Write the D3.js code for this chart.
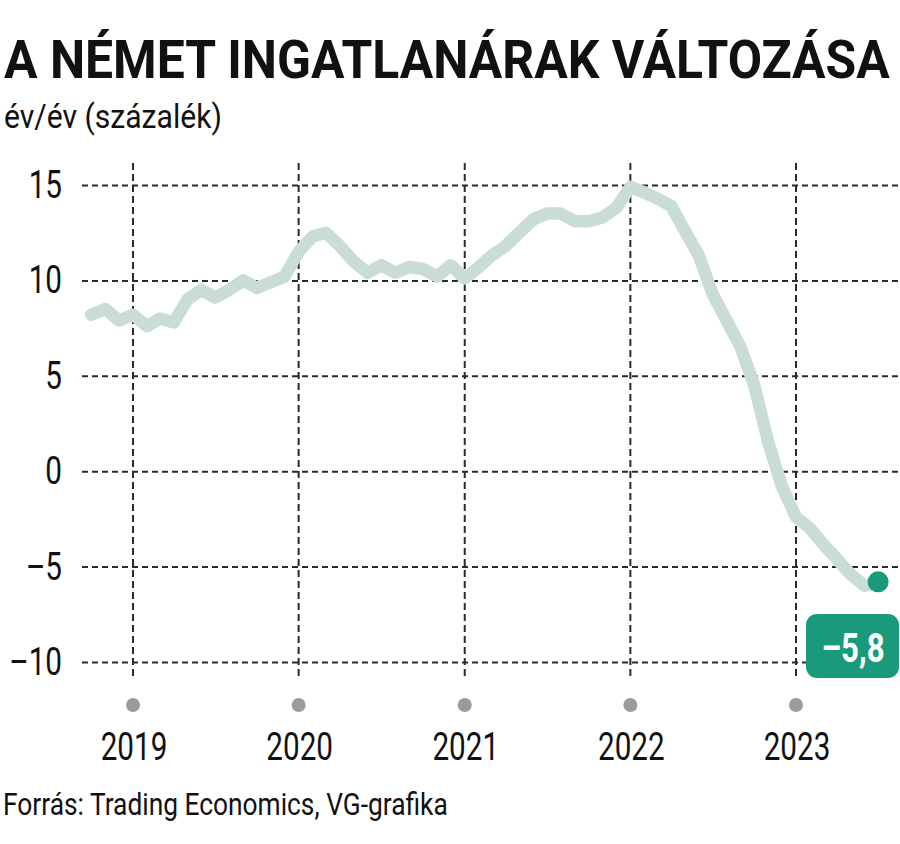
<!DOCTYPE html>
<html>
<head>
<meta charset="utf-8">
<script src="https://cdn.jsdelivr.net/npm/d3@7"></script>
<style>
  html, body { margin: 0; padding: 0; background: #fff; }
  svg { display: block; }
</style>
</head>
<body>
<script>
// ---- data ----
const months = [
  "2018-10","2018-11","2018-12",
  "2019-01","2019-02","2019-03","2019-04","2019-05","2019-06","2019-07","2019-08","2019-09","2019-10","2019-11","2019-12",
  "2020-01","2020-02","2020-03","2020-04","2020-05","2020-06","2020-07","2020-08","2020-09","2020-10","2020-11","2020-12",
  "2021-01","2021-02","2021-03","2021-04","2021-05","2021-06","2021-07","2021-08","2021-09","2021-10","2021-11","2021-12",
  "2022-01","2022-02","2022-03","2022-04","2022-05","2022-06","2022-07","2022-08","2022-09","2022-10","2022-11","2022-12",
  "2023-01","2023-02","2023-03","2023-04","2023-05","2023-06","2023-07"
];
const values = [
  8.2, 8.5, 7.9,
  8.2, 7.6, 8.0, 7.8, 9.0, 9.5, 9.1, 9.5, 10.0, 9.6, 9.9, 10.2,
  11.5, 12.3, 12.5, 11.8, 11.0, 10.4, 10.8, 10.4, 10.7, 10.6, 10.2, 10.8,
  10.1, 10.7, 11.3, 11.8, 12.5, 13.2, 13.5, 13.5, 13.1, 13.1, 13.3, 13.8,
  14.9, 14.6, 14.3, 13.9, 12.6, 11.3, 9.3, 7.9, 6.5, 4.5, 1.5, -0.8,
  -2.4, -3.0, -3.8, -4.6, -5.4, -6.0, -5.8
];
const yTicks = [15, 10, 5, 0, -5, -10];
const yearTicks = ["2019", "2020", "2021", "2022", "2023"];
const lastLabel = "–5,8";
const titleText = "A NÉMET INGATLANÁRAK VÁLTOZÁSA";
const subtitleText = "év/év (százalék)";
const sourceText = "Forrás: Trading Economics, VG-grafika";

// ---- chart ----
const W = 900, H = 844;
const parseM = d3.timeParse("%Y-%m");
const parseY = d3.timeParse("%Y");
const data = months.map((m, i) => ({ date: parseM(m), value: values[i] }));
const years = yearTicks.map(parseY);

const x = d3.scaleTime().domain([parseY("2019"), parseY("2023")]).range([133, 796]);
const y = d3.scaleLinear().domain([-10, 15]).range([662, 185]);

const svg = d3.select("body").append("svg").attr("width", W).attr("height", H);
svg.append("rect").attr("width", W).attr("height", H).attr("fill", "#fff");

const FONT = "Roboto, 'Open Sans', sans-serif";
const SX = 0.78;

// text squeezed horizontally to a target width
function fitText(txt, x0, y0, size, weight, width) {
  const t = svg.append("text")
    .attr("font-family", FONT).attr("font-weight", weight).attr("font-size", size)
    .attr("fill", "#111").text(txt);
  const w = t.node().getComputedTextLength();
  const s = width / w;
  t.attr("transform", `translate(${x0},${y0}) scale(${s},1)`);
  return t;
}

fitText(titleText, 4, 78, 53, 700, 886);
fitText(subtitleText, 4, 128, 33, 400, 218);

// horizontal grid
const gridH = svg.append("g").attr("transform", "translate(82,0)")
  .call(d3.axisLeft(y).tickValues(yTicks).tickSize(-(W - 82)).tickFormat(""));
gridH.select(".domain").remove();
gridH.selectAll(".tick line")
  .attr("stroke", "#2a2a2a").attr("stroke-width", 2).attr("stroke-dasharray", "6,4");

// vertical grid
svg.append("g").selectAll("line").data(years).join("line")
  .attr("x1", d => x(d)).attr("x2", d => x(d))
  .attr("y1", 163).attr("y2", 680)
  .attr("stroke", "#2a2a2a").attr("stroke-width", 2).attr("stroke-dasharray", "7,4");

// y labels
const fmt = d => d < 0 ? "–" + Math.abs(d) : String(d);
svg.append("g").selectAll("text").data(yTicks).join("text")
  .attr("transform", d => `translate(62,${y(d) + 13}) scale(${SX},1)`)
  .attr("text-anchor", "end")
  .attr("font-family", FONT).attr("font-size", 38).attr("fill", "#111")
  .text(fmt);

// year dots and labels
svg.append("g").selectAll("circle").data(years).join("circle")
  .attr("cx", d => x(d)).attr("cy", 705).attr("r", 7).attr("fill", "#9b9b9b");
svg.append("g").selectAll("text").data(years).join("text")
  .attr("transform", d => `translate(${x(d) + 1},760) scale(${SX},1)`)
  .attr("text-anchor", "middle")
  .attr("font-family", FONT).attr("font-size", 38).attr("fill", "#111")
  .text(d3.timeFormat("%Y"));

// line
const line = d3.line().x(d => x(d.date)).y(d => y(d.value));
svg.append("path").datum(data)
  .attr("d", line)
  .attr("fill", "none").attr("stroke", "#c9ddd4").attr("stroke-width", 12.5)
  .attr("stroke-linejoin", "round").attr("stroke-linecap", "round");

// last point
const last = data[data.length - 1];
svg.append("circle")
  .attr("cx", x(last.date)).attr("cy", y(last.value)).attr("r", 10.5)
  .attr("fill", "#1a9a7d");

svg.append("rect")
  .attr("x", 806).attr("y", 614).attr("width", 93).attr("height", 64).attr("rx", 11)
  .attr("fill", "#1a9a7d");
svg.append("text")
  .attr("transform", `translate(853,662) scale(${SX},1)`)
  .attr("text-anchor", "middle")
  .attr("font-family", FONT).attr("font-weight", 700).attr("font-size", 40).attr("fill", "#fff")
  .text(lastLabel);

// source
fitText(sourceText, 3, 815, 31, 400, 445);
</script>
</body>
</html>
